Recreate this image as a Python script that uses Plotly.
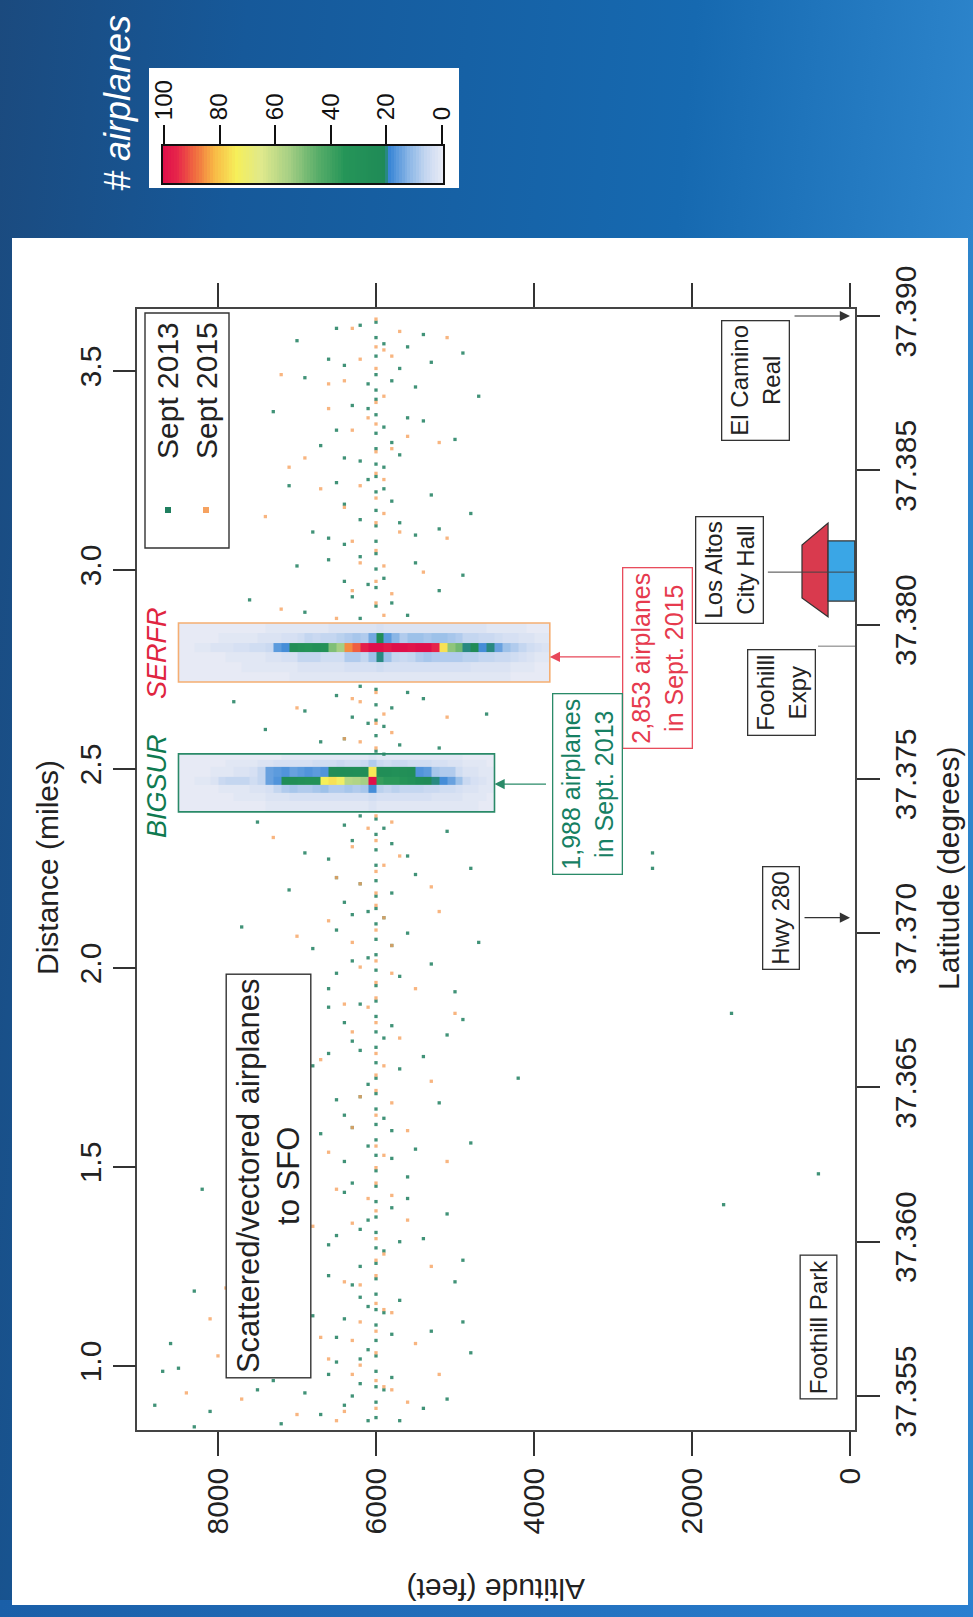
import base64
import plotly.graph_objects as go

W, H = 973, 1617
FONT = "Liberation Sans, Arial, Helvetica, sans-serif"

# ---------------- data ----------------
alt_ticks = [0, 2000, 4000, 6000, 8000]
lat_ticks = [37.355, 37.360, 37.365, 37.370, 37.375, 37.380, 37.385, 37.390]
dist_ticks = [1.0, 1.5, 2.0, 2.5, 3.0, 3.5]
cbar_ticks = [0, 20, 40, 60, 80, 100]

# 2D histogram boxes (altitude bin edges in ft, latitude bin edges in degrees)
bigsur_alt_edges = list(range(4500, 8600, 100))
bigsur_lat_edges = [37.37393, 37.37428, 37.37454, 37.37480, 37.37506, 37.37538, 37.37561, 37.37581]
bigsur_counts = [
    [0,0,1,1,1,1,1,1,1,1, 1,1,1,1,1,2,1,1,1,1, 1,1,1,1,1,1,1,1,1,0, 0,0,0,0,0,0,0,0,0,0],
    [0,1,1,1,2,2,2,2,3,3, 3,3,3,3,3,4,3,3,3,3, 3,3,3,3,3,3,2,2,2,1, 1,1,1,0,0,0,0,0,0,0],
    [1,1,2,2,3,4,4,5,5,6, 6,6,7,6,7,18,9,8,9,8, 8,10,9,8,8,9,8,6,3,2, 2,1,1,1,1,0,0,0,0,0],
    [1,2,3,5,10,15,18,20,22,24, 30,34,36,36,38,100,55,57,58,72, 76,74,30,30,28,26,24,17,15,6, 4,6,6,6,5,2,1,1,0,0],
    [1,1,2,2,4,8,8,9,16,17, 26,27,28,26,26,75,25,26,25,24, 25,17,16,17,16,15,17,16,15,6, 3,2,2,1,1,1,0,0,0,0],
    [0,1,1,1,2,2,3,3,4,4, 4,5,5,4,5,8,5,4,4,5, 4,4,4,3,3,3,3,3,2,2, 1,1,1,1,0,0,0,0,0,0],
    [0,0,0,0,1,1,1,1,1,1, 1,1,1,1,1,2,1,1,1,1, 1,1,1,1,1,1,1,0,0,0, 0,0,0,0,0,0,0,0,0,0],
]
serfr_alt_edges = list(range(3800, 8600, 100))
serfr_lat_edges = [37.37814, 37.37846, 37.37879, 37.37910, 37.37940, 37.37973, 37.38005]
serfr_counts = [
    [0,0,0,0,0,1,1,1,1,1, 1,1,1,1,1,1,1,1,1,1, 1,1,1,1,1,1,1,1,1,1, 1,1,1,0,0,0,0,0,0,0, 0,0,0,0,0,0,0],
    [0,0,1,1,1,2,2,2,2,2, 3,3,3,3,3,3,3,3,3,3, 3,4,3,3,3,3,2,2,2,2, 2,2,1,1,1,1,1,1,1,0, 0,0,0,0,0,0,0],
    [1,1,2,3,4,5,5,6,6,7, 7,8,8,8,8,9,8,6,5,6, 10,20,10,6,8,8,4,4,4,6, 6,6,3,3,2,2,1,1,1,1, 1,0,0,0,0,0,0],
    [2,3,4,6,8,10,15,20,18,22, 20,48,52,76,96,100,100,99,100,100, 98,100,100,97,90,86,55,50,30,28, 32,30,26,18,16,5,4,4,3,3, 2,2,2,1,1,0,0],
    [1,1,2,2,3,3,4,5,5,6, 6,8,9,10,10,9,10,10,8,12, 16,25,14,8,9,8,7,6,6,5, 6,4,3,3,2,2,2,1,1,1, 1,1,0,0,0,0,0],
    [0,0,0,1,1,1,1,1,2,2, 2,2,2,2,2,2,2,2,2,2, 2,3,2,2,2,2,2,2,1,1, 1,1,1,1,1,1,0,0,0,0, 0,0,0,0,0,0,0],
]

# individual flights [latitude, altitude ft]
sept2013_points = [
    [37.3898,6000],[37.3893,6000],[37.3887,6000],[37.3881,6000],[37.3876,6000],[37.3896,6500],[37.3884,6400],[37.3879,5800],
    [37.3890,5600],[37.3885,5300],[37.3892,7000],[37.3880,6900],[37.3888,4900],[37.3877,5500],
    [37.3897,6200],[37.3891,5900],[37.3886,6600],[37.3883,5700],[37.3878,6100],[37.3894,5400],
    [37.3873,6000],[37.3868,6000],[37.3862,6000],[37.3857,6000],[37.3852,6000],[37.3871,6300],[37.3864,5900],[37.3858,6700],
    [37.3866,5400],[37.3855,5700],[37.3869,7300],[37.3860,5000],[37.3853,6200],[37.3874,4700],
    [37.3870,6100],[37.3863,6500],[37.3859,5800],[37.3854,6400],[37.3867,5600],[37.3851,5900],
    [37.3848,6000],[37.3843,6000],[37.3837,6000],[37.3832,6000],[37.3827,6000],[37.3846,6500],[37.3840,5800],[37.3834,6200],
    [37.3829,5500],[37.3845,7100],[37.3836,4800],[37.3830,6800],[37.3842,5300],[37.3826,6400],
    [37.3847,6100],[37.3839,6400],[37.3833,5700],[37.3828,6600],[37.3844,5900],[37.3831,5200],
    [37.3823,6000],[37.3818,6000],[37.3812,6000],[37.3806,6000],[37.3821,6600],[37.3815,5900],[37.3809,6300],[37.3803,5600],
    [37.3819,7000],[37.3811,5200],[37.3804,6900],[37.3816,4900],[37.3808,7600],
    [37.3822,6200],[37.3814,6400],[37.3807,5800],[37.3820,5500],[37.3813,6100],[37.3802,6200],
    [37.3779,6000],[37.3774,6000],[37.3769,6000],[37.3764,6000],[37.3759,6000],[37.3777,6500],[37.3772,6900],[37.3766,7400],
    [37.3761,5700],[37.3776,5400],[37.3770,6300],[37.3762,6700],[37.3775,7800],[37.3767,5900],[37.3760,5200],[37.3771,4600],
    [37.3780,6200],[37.3773,5800],[37.3768,6100],[37.3763,6400],[37.3758,5900],[37.3778,5600],
    [37.3737,6000],[37.3732,6000],[37.3727,6000],[37.3722,6000],[37.3717,6000],[37.3712,6000],[37.3735,6400],[37.3729,5800],
    [37.3724,6600],[37.3719,5500],[37.3714,7100],[37.3733,5100],[37.3726,6900],[37.3716,6200],[37.3736,7500],[37.3721,4800],
    [37.3726,2500],[37.3721,2500],
    [37.3738,6200],[37.3734,5900],[37.3730,6300],[37.3725,5600],[37.3718,6500],[37.3713,5800],[37.3710,6400],
    [37.3708,6000],[37.3703,6000],[37.3698,6000],[37.3693,6000],[37.3688,6000],[37.3683,6000],[37.3706,6300],[37.3700,5600],
    [37.3695,6800],[37.3690,5300],[37.3685,7200],[37.3705,5900],[37.3697,4700],[37.3687,6500],[37.3702,7700],[37.3692,6100],
    [37.3681,5000],
    [37.3707,6100],[37.3701,6500],[37.3696,5800],[37.3691,6300],[37.3686,5700],[37.3682,6600],
    [37.3678,6000],[37.3673,6000],[37.3668,6000],[37.3663,6000],[37.3658,6000],[37.3653,6000],[37.3676,6600],[37.3670,5800],
    [37.3665,6300],[37.3660,5400],[37.3655,7000],[37.3675,7500],[37.3667,5100],[37.3657,6800],[37.3672,4900],[37.3662,6200],
    [37.3674,1500],[37.3653,4200],
    [37.3677,6200],[37.3671,6400],[37.3666,5900],[37.3661,6600],[37.3656,5700],[37.3651,6100],
    [37.3648,6000],[37.3643,6000],[37.3638,6000],[37.3633,6000],[37.3628,6000],[37.3623,6000],[37.3646,6500],[37.3640,5900],
    [37.3635,6700],[37.3630,5500],[37.3625,7100],[37.3645,5200],[37.3637,6300],[37.3627,5800],[37.3642,7400],[37.3632,4800],
    [37.3622,6900],[37.3622,400],
    [37.3647,6200],[37.3641,6400],[37.3636,5800],[37.3631,6100],[37.3626,6400],[37.3621,5600],
    [37.3618,6000],[37.3613,6000],[37.3608,6000],[37.3603,6000],[37.3598,6000],[37.3593,6000],[37.3616,6400],[37.3611,5800],
    [37.3606,6900],[37.3601,5400],[37.3596,7400],[37.3615,7800],[37.3609,5100],[37.3604,6200],[37.3599,6600],[37.3594,4900],
    [37.3612,1600],[37.3617,8200],[37.3591,7100],[37.3600,5700],
    [37.3619,6300],[37.3614,5600],[37.3607,6100],[37.3602,6500],[37.3597,5900],[37.3592,6200],
    [37.3588,6000],[37.3583,6000],[37.3578,6000],[37.3573,6000],[37.3568,6000],[37.3586,6300],[37.3581,5700],[37.3576,6800],
    [37.3571,5300],[37.3566,7300],[37.3585,7700],[37.3579,6100],[37.3574,4900],[37.3569,6500],[37.3584,8300],[37.3577,5900],
    [37.3587,5000],[37.3572,7000],[37.3567,8600],
    [37.3589,6600],[37.3582,6200],[37.3575,6400],[37.3570,5800],[37.3565,6100],[37.3580,7400],[37.3568,7700],
    [37.3563,6000],[37.3558,6000],[37.3553,6000],[37.3548,6000],[37.3543,6000],[37.3561,6500],[37.3556,5800],[37.3551,6900],
    [37.3546,5400],[37.3541,7200],[37.3560,7800],[37.3554,6200],[37.3549,5100],[37.3544,6700],[37.3559,8500],[37.3552,7500],
    [37.3547,8800],[37.3542,5700],[37.3564,4800],[37.3550,6300],[37.3545,8100],
    [37.3562,6200],[37.3557,6600],[37.3552,5900],[37.3547,6400],[37.3542,6100],[37.3555,7300],[37.3540,8300],[37.3558,8700],
]
sept2015_points = [
    [37.3899,6000],[37.3890,6000],[37.3883,6000],[37.3895,5700],[37.3886,6200],[37.3878,6600],[37.3893,5100],[37.3881,7200],[37.3889,5900],
    [37.3896,6300],[37.3887,5800],[37.3879,6400],
    [37.3872,6000],[37.3865,6000],[37.3856,6000],[37.3870,6600],[37.3861,5600],[37.3854,6900],[37.3867,6100],[37.3859,5200],[37.3851,7100],
    [37.3874,5900],[37.3863,6300],[37.3857,5800],
    [37.3849,6000],[37.3841,6000],[37.3833,6000],[37.3847,5900],[37.3838,6400],[37.3830,5700],[37.3844,6700],[37.3828,5100],[37.3835,7400],
    [37.3845,6200],[37.3836,5900],[37.3827,6300],
    [37.3824,6000],[37.3814,6000],[37.3807,6000],[37.3820,6200],[37.3810,5800],[37.3802,6500],[37.3817,5400],[37.3805,7200],
    [37.3819,5900],[37.3811,6300],[37.3803,5900],
    [37.3778,6000],[37.3768,6000],[37.3760,6000],[37.3775,6200],[37.3765,5800],[37.3773,7000],[37.3763,6400],[37.3770,5100],
    [37.3776,6300],[37.3771,5900],[37.3762,6200],
    [37.3738,6000],[37.3730,6000],[37.3720,6000],[37.3713,6000],[37.3734,6100],[37.3725,5700],[37.3718,6500],[37.3731,7300],[37.3715,5300],
    [37.3736,5800],[37.3728,6300],[37.3722,5900],[37.3716,6200],
    [37.3709,6000],[37.3701,6000],[37.3691,6000],[37.3684,6000],[37.3704,6600],[37.3696,5800],[37.3689,6200],[37.3699,7000],[37.3682,5500],[37.3707,5200],
    [37.3705,5900],[37.3697,6300],[37.3687,5800],
    [37.3679,6000],[37.3671,6000],[37.3661,6000],[37.3654,6000],[37.3677,6400],[37.3666,5700],[37.3659,6700],[37.3669,7200],[37.3652,5300],[37.3674,5000],
    [37.3676,6100],[37.3668,6300],[37.3657,5900],
    [37.3649,6000],[37.3641,6000],[37.3631,6000],[37.3624,6000],[37.3647,6200],[37.3636,5600],[37.3629,6600],[37.3644,7000],[37.3626,5100],[37.3639,6900],
    [37.3645,5800],[37.3637,6300],[37.3628,5900],
    [37.3619,6000],[37.3610,6000],[37.3601,6000],[37.3594,6000],[37.3617,6500],[37.3607,5600],[37.3598,7000],[37.3614,6100],[37.3603,7600],[37.3592,5300],[37.3605,6800],
    [37.3615,5800],[37.3606,6300],[37.3596,5900],
    [37.3589,6000],[37.3580,6000],[37.3571,6000],[37.3587,6400],[37.3577,5800],[37.3569,6700],[37.3582,7200],[37.3574,6200],[37.3567,5500],[37.3585,7900],[37.3575,8100],
    [37.3586,6200],[37.3578,5900],[37.3568,6300],
    [37.3564,6000],[37.3555,6000],[37.3546,6000],[37.3562,6600],[37.3553,5900],[37.3544,7000],[37.3557,6300],[37.3548,5600],[37.3560,7400],[37.3542,6500],[37.3551,8400],[37.3557,5200],
    [37.3560,6200],[37.3552,5800],[37.3545,6400],[37.3549,7700],[37.3563,8000],
]

# landmarks
landmark_names = ["Foothill Park", "Hwy 280", "Foohilll<br>Expy", "Los Altos<br>City Hall", "El Camino<br>Real"]
landmark_lats = [37.3572, 37.3705, 37.3793, 37.3817, 37.3900]

# ---------------- colours ----------------
colorscale = [
    [0.00, "#e7eaf5"], [0.06, "#c4d6f0"], [0.12, "#8ab6e6"], [0.19, "#3a86d6"],
    [0.205, "#1f8a57"], [0.35, "#259558"], [0.45, "#5aae6a"], [0.55, "#a6cf84"],
    [0.65, "#dfe98c"], [0.74, "#f6ef5a"], [0.82, "#f8b845"], [0.89, "#f06a40"],
    [0.95, "#e7284a"], [1.00, "#df0f4a"],
]
GREEN = "#1f7f5f"
ORANGE = "#f6a260"

# ---------------- geometry helpers (pixel -> paper) ----------------
def PX(x):
    return x / W

def PY(y):
    return 1 - y / H

ALT_RANGE = [9025, -63]
LAT_RANGE = [37.353898, 37.390227]
DIST_RANGE = [0.8392, 3.6558]

# ---------------- background (blue slide + white panel) ----------------
svg = f'''<svg xmlns="http://www.w3.org/2000/svg" width="{W}" height="{H}" viewBox="0 0 {W} {H}" preserveAspectRatio="none">
<defs>
<linearGradient id="g" x1="0" y1="0" x2="1" y2="0.15">
<stop offset="0" stop-color="#1b4a7e"/><stop offset="0.25" stop-color="#16599a"/>
<stop offset="0.7" stop-color="#1669b0"/><stop offset="1" stop-color="#2d85cc"/>
</linearGradient>
<linearGradient id="b" x1="0" y1="0" x2="1" y2="0">
<stop offset="0" stop-color="#1a5fa8"/><stop offset="1" stop-color="#2a7fd0"/>
</linearGradient>
</defs>
<rect width="{W}" height="{H}" fill="url(#g)"/>
<rect x="0" y="1600" width="{W}" height="17" fill="url(#b)"/>
<rect x="12" y="238" width="956" height="1367" fill="#ffffff"/>
<rect x="149" y="68" width="310" height="120" fill="#ffffff"/>
</svg>'''
bg_uri = "data:image/svg+xml;base64," + base64.b64encode(svg.encode()).decode()

fig = go.Figure()

# heatmaps
for edges_x, edges_y, z in [(bigsur_alt_edges, bigsur_lat_edges, bigsur_counts),
                            (serfr_alt_edges, serfr_lat_edges, serfr_counts)]:
    fig.add_trace(go.Heatmap(x=edges_x, y=edges_y, z=z, colorscale=colorscale,
                             zmin=0, zmax=100, showscale=False, hoverinfo="skip",
                             xaxis="x", yaxis="y"))

# scatter of flights
for pts, col, op in [(sept2013_points, GREEN, 0.85), (sept2015_points, ORANGE, 0.8)]:
    fig.add_trace(go.Scatter(x=[p[1] for p in pts], y=[p[0] for p in pts], mode="markers",
                             marker=dict(symbol="square", size=3.3, color=col, opacity=op,
                                         line=dict(width=0)),
                             showlegend=False, hoverinfo="skip", xaxis="x", yaxis="y"))

# invisible trace so the distance axis (top axis of the original plot) is drawn
fig.add_trace(go.Scatter(x=[alt_ticks[0]] * len(dist_ticks), y=dist_ticks, mode="markers",
                         marker=dict(opacity=0), showlegend=False, hoverinfo="skip",
                         xaxis="x", yaxis="y2"))

# colour bar drawn as a one-row heatmap on its own axes
cbar_ramp = list(range(0, 101))
fig.add_trace(go.Heatmap(x=cbar_ramp, y=[0], z=[cbar_ramp], colorscale=colorscale,
                         zmin=0, zmax=100, showscale=False, hoverinfo="skip",
                         xaxis="x3", yaxis="y3"))

axis_common = dict(showgrid=False, zeroline=False, ticks="outside", tickwidth=1.5,
                   tickcolor="#333", automargin=False,
                   tickfont=dict(family=FONT, size=30, color="#222"))

fig.update_layout(
    template="none",
    width=W, height=H, autosize=False,
    margin=dict(l=0, r=0, t=0, b=0, pad=0, autoexpand=False),
    paper_bgcolor="#1a5c9e", plot_bgcolor="rgba(0,0,0,0)",
    showlegend=False,
    images=[dict(source=bg_uri, xref="paper", yref="paper", x=0, y=1, sizex=1, sizey=1,
                 xanchor="left", yanchor="top", sizing="stretch", layer="below")],
    xaxis=dict(domain=[PX(137), PX(855)], range=ALT_RANGE, tickvals=alt_ticks,
               ticklen=24, tickangle=-90, showline=True, linecolor="#444", linewidth=1.5,
               mirror="ticks", anchor="y", **axis_common),
    yaxis=dict(domain=[PY(1430), PY(309)], range=LAT_RANGE, tickvals=lat_ticks,
               tickformat=".3f", side="right", ticklen=23, tickangle=-90,
               showline=True, linecolor="#444", linewidth=1.5, mirror=True,
               anchor="x", **axis_common),
    yaxis2=dict(range=DIST_RANGE, tickvals=dist_ticks, tickformat=".1f", overlaying="y",
                side="left", anchor="x", ticklen=23, tickangle=-90, showline=False,
                **axis_common),
    xaxis3=dict(domain=[PX(162.6), PX(443.4)], range=[100.5, -0.5], tickvals=cbar_ticks,
                side="top", ticks="outside", ticklen=19, tickwidth=1.5, tickcolor="#111",
                tickangle=-90, tickfont=dict(family=FONT, size=24, color="#111"),
                showline=True, mirror=True, linecolor="#111", linewidth=2,
                showgrid=False, zeroline=False, anchor="y3", automargin=False),
    yaxis3=dict(domain=[PY(183), PY(146)], range=[-0.5, 0.5], showticklabels=False,
                ticks="", showline=True, mirror=True, linecolor="#111", linewidth=2,
                showgrid=False, zeroline=False, anchor="x3", automargin=False),
)

shapes = []
# legend box and markers
shapes.append(dict(type="rect", xref="paper", yref="paper", x0=PX(145), x1=PX(229),
                   y0=PY(548), y1=PY(313), fillcolor="white", line=dict(color="#333", width=1.4),
                   layer="above"))
for cx, col in [(168, GREEN), (206, ORANGE)]:
    shapes.append(dict(type="rect", xref="paper", yref="paper", x0=PX(cx - 3), x1=PX(cx + 3),
                       y0=PY(513), y1=PY(507), fillcolor=col, line=dict(width=0), layer="above"))
# histogram box outlines
shapes.append(dict(type="rect", xref="x", yref="y", x0=bigsur_alt_edges[0], x1=bigsur_alt_edges[-1],
                   y0=bigsur_lat_edges[0], y1=bigsur_lat_edges[-1],
                   line=dict(color="#2a8a68", width=1.6), layer="above"))
shapes.append(dict(type="rect", xref="x", yref="y", x0=serfr_alt_edges[0], x1=serfr_alt_edges[-1],
                   y0=serfr_lat_edges[0], y1=serfr_lat_edges[-1],
                   line=dict(color="#f5ae72", width=1.6), layer="above"))
# City Hall house
shapes.append(dict(type="path", xref="x", yref="y",
                   path="M 608,37.38258 L 608,37.38086 L 278,37.38025 L 278,37.38329 Z",
                   fillcolor="#d93a4e", line=dict(color="#333", width=1.2), layer="above"))
shapes.append(dict(type="rect", xref="x", yref="y", x0=278, x1=-60, y0=37.38076, y1=37.38271,
                   fillcolor="#3aa6e6", line=dict(color="#333", width=1.2), layer="above"))
# leader lines
shapes.append(dict(type="line", xref="x", yref="y", x0=1040, x1=-63, y0=landmark_lats[3],
                   y1=landmark_lats[3], line=dict(color="#444", width=1), layer="above"))
shapes.append(dict(type="line", xref="x", yref="y", x0=405, x1=-63, y0=landmark_lats[2],
                   y1=landmark_lats[2], line=dict(color="#777", width=1), layer="above"))
fig.update_layout(shapes=shapes)

def label(text, x, y, size, color="#222", angle=-90, border=None, pad=3, bw=1.3):
    d = dict(text=text, showarrow=False, textangle=angle, xref="paper", yref="paper",
             x=PX(x), y=PY(y), xanchor="center", yanchor="middle",
             font=dict(family=FONT, size=size, color=color))
    if border:
        d.update(bordercolor=border, borderwidth=bw, borderpad=pad, bgcolor="white")
    return d

def arrow(x, y, ax, color, width=1.2, size=1.7):
    return dict(x=x, y=y, xref="x", yref="y", ax=ax, ay=0, text="", showarrow=True,
                arrowhead=2, arrowsize=size, arrowwidth=width, arrowcolor=color)

ann = [
    label("<i># airplanes</i>", 117, 103, 36, color="white"),
    label("Distance (miles)", 47, 868, 30),
    label("Latitude (degrees)", 948, 868, 30),
    label("Altitude (feet)", 496, 1590, 30, angle=180),
    label("Sept 2013<br>Sept 2015", 187, 391, 30),
    label("<i>SERFR</i>", 157, 653, 27, color="#e0253f"),
    label("<i>BIGSUR</i>", 157, 786, 27, color="#0f7a50"),
    label("2,853 airplanes<br>in Sept. 2015", 657, 658, 25, color="#e63a4e", border="#e84c5c", pad=4),
    label("1,988 airplanes<br>in Sept. 2013", 587, 784, 25, color="#168063", border="#2a8a68", pad=4),
    label("Scattered/vectored airplanes<br>to SFO", 268.5, 1176, 31, border="#333", pad=4, bw=1.4),
    label(landmark_names[0], 818.5, 1327, 24, border="#333", pad=4),
    label(landmark_names[1], 781.5, 918.5, 24, border="#333", pad=4),
    label(landmark_names[2], 781.5, 692.5, 24, border="#333", pad=4),
    label(landmark_names[3], 730, 570, 24, border="#333", pad=4),
    label(landmark_names[4], 755.5, 380.5, 24, border="#333", pad=4),
    arrow(serfr_alt_edges[0], 37.37895, 72, "#e8485a"),
    arrow(bigsur_alt_edges[0], 37.37483, 53, "#2a8a68"),
    arrow(0, landmark_lats[1], -47, "#333"),
    arrow(0, landmark_lats[4], -57, "#333"),
]
fig.update_layout(annotations=ann)

# remove the browser's default 8px page margin so the figure fills the window exactly
fig.write_html("out.html", config={"displayModeBar": False},
               post_script="document.body.style.margin='0px';document.body.style.overflow='hidden';")
